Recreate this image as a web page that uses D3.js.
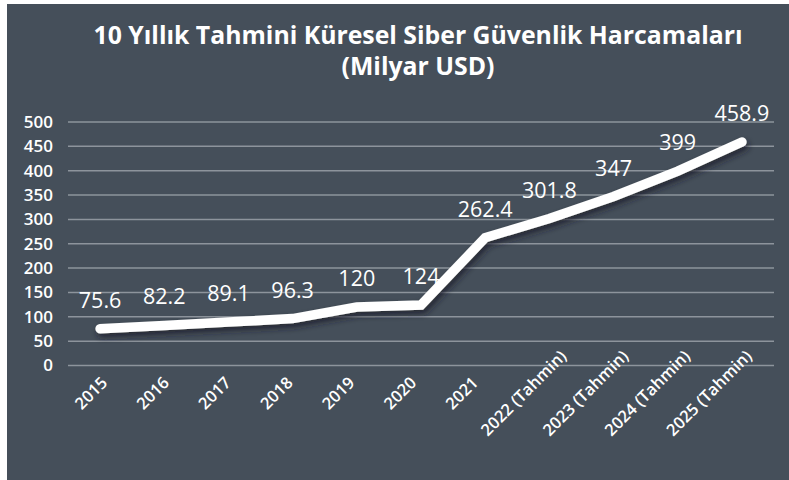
<!DOCTYPE html>
<html>
<head>
<meta charset="utf-8">
<script src="https://cdn.jsdelivr.net/npm/d3@7"></script>
<style>
  html, body { margin: 0; padding: 0; background: #ffffff; }
  svg { display: block; }
</style>
</head>
<body>
<div id="chart"></div>
<script>
'use strict';

var categories = ['2015', '2016', '2017', '2018', '2019', '2020', '2021',
    '2022 (Tahmin)', '2023 (Tahmin)', '2024 (Tahmin)', '2025 (Tahmin)'];
var spending = [75.6, 82.2, 89.1, 96.3, 120, 124, 262.4, 301.8, 347, 399, 458.9];
var valueLabels = ['75.6', '82.2', '89.1', '96.3', '120', '124', '262.4', '301.8', '347', '399', '458.9'];
var yTicks = [0, 50, 100, 150, 200, 250, 300, 350, 400, 450, 500];
var titleLines = ['10 Yıllık Tahmini Küresel Siber Güvenlik Harcamaları', '(Milyar USD)'];

var width = 789;
var height = 480;
var bg = '#454f5a';
var font = '"Open Sans", "Noto Sans", sans-serif';

var svg = d3.select('#chart').append('svg')
    .attr('width', width)
    .attr('height', height);

var defs = svg.append('defs');
var shadow = defs.append('filter')
    .attr('id', 'shadow')
    .attr('x', '-10%').attr('y', '-10%')
    .attr('width', '120%').attr('height', '130%');
shadow.append('feDropShadow')
    .attr('dx', 2).attr('dy', 4)
    .attr('stdDeviation', 3)
    .attr('flood-color', '#1a1f26')
    .attr('flood-opacity', 0.75);

svg.append('rect')
    .attr('x', 7).attr('y', 4)
    .attr('width', width).attr('height', height)
    .attr('fill', bg);

// title
var title = svg.append('g').attr('class', 'title');
title.selectAll('text')
    .data(titleLines)
    .enter().append('text')
    .attr('x', 418)
    .attr('y', function (d, i) { return 44 + i * 31; })
    .attr('text-anchor', 'middle')
    .attr('fill', '#ffffff')
    .attr('font-family', font)
    .attr('font-weight', 700)
    .attr('font-size', 24.8)
    .text(function (d) { return d; });

var x = d3.scalePoint()
    .domain(categories)
    .range([68, 774])
    .padding(0.5);

var labelX = d3.scalePoint()
    .domain(categories)
    .range([90, 708]);

var y = d3.scaleLinear()
    .domain([0, 500])
    .range([365.5, 122]);

// gridlines
svg.append('g')
    .attr('class', 'grid')
    .selectAll('line')
    .data(yTicks)
    .enter().append('line')
    .attr('x1', 68).attr('x2', 774)
    .attr('y1', function (d) { return y(d); })
    .attr('y2', function (d) { return y(d); })
    .attr('stroke', '#8d949c')
    .attr('stroke-width', 1.5);

// y axis
var yAxis = svg.append('g')
    .attr('class', 'y axis')
    .attr('transform', 'translate(53,0)')
    .call(d3.axisLeft(y).tickValues(yTicks).tickSize(0).tickPadding(0));
yAxis.select('.domain').remove();
yAxis.selectAll('text')
    .attr('fill', '#ffffff')
    .attr('font-family', font)
    .attr('font-weight', 600)
    .attr('font-size', 17);

// x axis
var xAxis = svg.append('g')
    .attr('class', 'x axis')
    .attr('transform', 'translate(0,' + y(0) + ')')
    .call(d3.axisBottom(labelX).tickSize(0).tickPadding(0));
xAxis.select('.domain').remove();
xAxis.selectAll('text')
    .attr('y', 0)
    .attr('dy', 0)
    .attr('transform', 'translate(0,27) rotate(-45)')
    .attr('text-anchor', 'middle')
    .attr('dominant-baseline', 'central')
    .attr('fill', '#ffffff')
    .attr('font-family', font)
    .attr('font-weight', 600)
    .attr('font-size', 16.5);

// line
var line = d3.line()
    .x(function (d, i) { return x(categories[i]); })
    .y(function (d) { return y(d); });

svg.append('path')
    .datum(spending)
    .attr('d', line)
    .attr('fill', 'none')
    .attr('stroke', '#ffffff')
    .attr('stroke-width', 9.5)
    .attr('stroke-linecap', 'round')
    .attr('stroke-linejoin', 'miter')
    .attr('filter', 'url(#shadow)');

// data labels
svg.append('g')
    .attr('class', 'labels')
    .selectAll('text')
    .data(spending)
    .enter().append('text')
    .attr('x', function (d, i) { return x(categories[i]); })
    .attr('y', function (d) { return y(d) - 21; })
    .attr('text-anchor', 'middle')
    .attr('fill', '#ffffff')
    .attr('font-family', font)
    .attr('font-size', 21.5)
    .text(function (d, i) { return valueLabels[i]; });
</script>
</body>
</html>
